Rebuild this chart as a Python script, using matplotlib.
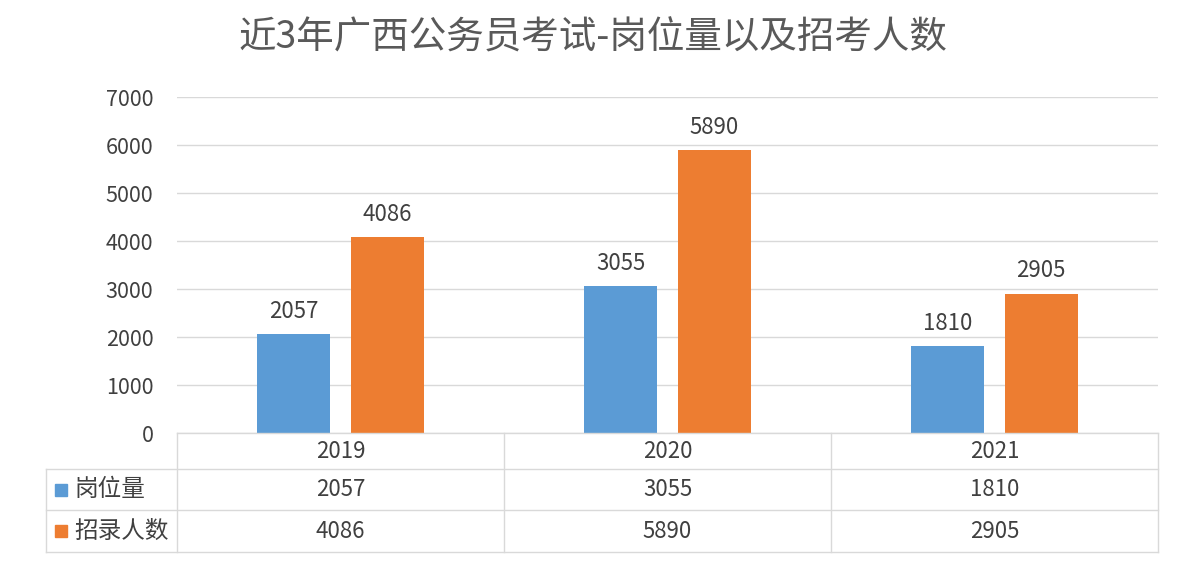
import matplotlib
matplotlib.use("Agg")
import matplotlib.pyplot as plt
from matplotlib.lines import Line2D
from matplotlib.patches import Rectangle

plt.rcParams['font.family'] = ['Noto Sans CJK SC', 'DejaVu Sans']

title = "近3年广西公务员考试-岗位量以及招考人数"
years = ["2019", "2020", "2021"]
series_names = ["岗位量", "招录人数"]
posts = [2057, 3055, 1810]
recruits = [4086, 5890, 2905]
yticks = [0, 1000, 2000, 3000, 4000, 5000, 6000, 7000]

colors = ["#5B9BD5", "#ED7D31"]
text_color = "#595959"
grid_color = "#D9D9D9"
num_color = "#404040"

W, H = 1177, 580
fig = plt.figure(figsize=(W / 100, H / 100), dpi=100)

def fx(px):
    return px / W

def fy(py):
    return 1 - py / H

ax_left, ax_right, ax_top, ax_bot = 177, 1158, 97, 433
ax = fig.add_axes([fx(ax_left), fy(ax_bot), fx(ax_right - ax_left), fy(ax_top) - fy(ax_bot)])

x = list(range(len(years)))
bw = 0.223
off = 0.143
series = [posts, recruits]
for i, (vals, c) in enumerate(zip(series, colors)):
    pos = [xi + (-off if i == 0 else off) for xi in x]
    bars = ax.bar(pos, vals, width=bw, color=c, zorder=3)
    for b, v in zip(bars, vals):
        ax.annotate(str(v), (b.get_x() + b.get_width() / 2, v), xytext=(0, 8),
                    textcoords="offset points", ha="center", va="bottom",
                    fontsize=16, color=num_color)

ax.set_xlim(-0.5, len(years) - 0.5)
ax.set_ylim(0, 7000)
ax.set_yticks(yticks)
ax.set_yticklabels([str(t) for t in yticks], fontsize=15.5, color=num_color)
ax.tick_params(axis="y", length=0, pad=17)
ax.set_xticks([])
ax.grid(axis="y", color=grid_color, linewidth=1, zorder=0)
for s in ax.spines.values():
    s.set_visible(False)

# title
fig.text(fx(593), fy(38), title, ha="center", va="center", fontsize=27, color=text_color)

# data table
row_lines = [433, 469, 510, 552]
col_lines = [ax_left + (ax_right - ax_left) * k / len(years) for k in range(len(years) + 1)]
tl = 46
lw = 1.0
def hline(y, x0, x1):
    fig.add_artist(Line2D([fx(x0), fx(x1)], [fy(y), fy(y)], color=grid_color, lw=lw))
def vline(xp, y0, y1):
    fig.add_artist(Line2D([fx(xp), fx(xp)], [fy(y0), fy(y1)], color=grid_color, lw=lw))

hline(row_lines[0], ax_left, ax_right)
for y in row_lines[1:]:
    hline(y, tl, ax_right)
vline(tl, row_lines[1], row_lines[3])
for c in col_lines:
    vline(c, row_lines[0], row_lines[3])

centers_x = [(col_lines[k] + col_lines[k + 1]) / 2 for k in range(len(years))]
row_c = [(row_lines[k] + row_lines[k + 1]) / 2 for k in range(3)]
for k, yr in enumerate(years):
    fig.text(fx(centers_x[k]), fy(row_c[0]), yr, ha="center", va="center", fontsize=16, color=num_color)
    fig.text(fx(centers_x[k]), fy(row_c[1]), str(posts[k]), ha="center", va="center", fontsize=16, color=num_color)
    fig.text(fx(centers_x[k]), fy(row_c[2]), str(recruits[k]), ha="center", va="center", fontsize=16, color=num_color)

for r, (name, c) in enumerate(zip(series_names, colors)):
    yc = row_c[r + 1]
    fig.add_artist(Rectangle((fx(55), fy(yc + 6)), fx(12), fy(yc - 6) - fy(yc + 6), color=c))
    fig.text(fx(74), fy(yc), name, ha="left", va="center", fontsize=17, color=num_color)

fig.savefig("out.png", dpi=100, facecolor="white")
